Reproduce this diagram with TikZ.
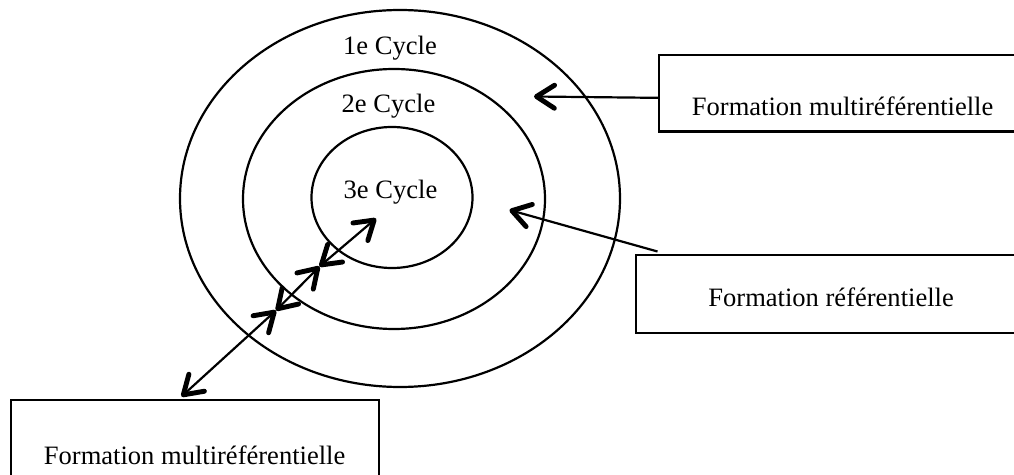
\documentclass[tikz,border=0pt]{standalone}
\usepackage{fontspec}
\setmainfont{Liberation Serif}
\usetikzlibrary{arrows.meta}

\begin{document}
\begin{tikzpicture}[font=\fontsize{15.1}{18}\selectfont]
\tikzset{barb/.tip={Straight Barb[length=0.36cm, width=0.46cm, line width=2.8pt, round]},
  ring/.style={line width=1.25pt},
  frm/.style={draw, line width=1.25pt, inner sep=0pt, anchor=north west},
  arr/.style={line width=1.25pt, -barb},
  dbl/.style={line width=1.25pt, barb-barb}};
\useasboundingbox (0,0) rectangle (20.28,-9.5);
\clip (0,0) rectangle (20.28,-9.5);
\draw [ring] (8,-3.97) ellipse (4.40 and 3.77);
\draw [ring] (7.88,-3.98) ellipse (3.02 and 2.60);
\draw [ring] (7.84,-3.95) ellipse (1.61 and 1.41);
\node [anchor=base] (c1) at (7.80,-1.10) {1e Cycle};
\node [anchor=base] (c2) at (7.77,-2.26) {2e Cycle};
\node [anchor=base] (c3) at (7.81,-3.98) {3e Cycle};
\node [frm, minimum width=7.34cm, text height=1.2cm, text depth=0.33cm] (frm1) at (13.16,-1.08) {Formation multiréférentielle};
\node [frm, minimum width=7.8cm, text height=1.02cm, text depth=0.53cm] (frm2) at (12.7,-5.08) {Formation référentielle};
\node [frm, minimum width=7.36cm, text height=1.28cm, text depth=0.3cm] (frm3) at (0.19,-7.98) {Formation multiréférentielle};
\coordinate (t1) at (10.68,-1.93);
\coordinate (t2) at (10.19,-4.20);
\coordinate (j1) at (5.52,-6.21);
\coordinate (j2) at (6.39,-5.33);
\coordinate (t3) at (7.52,-4.37);
\draw [arr] ([yshift=-0.09cm]frm1.west) -- (t1);
\draw [arr] ([xshift=0.45cm,yshift=0.05cm]frm2.north west) -- (t2);
\draw [dbl] ([xshift=3.44cm,yshift=0.05cm]frm3.north west) -- (j1);
\draw [dbl] (j1) -- (j2);
\draw [dbl] (j2) -- (t3);
\end{tikzpicture}
\end{document}
